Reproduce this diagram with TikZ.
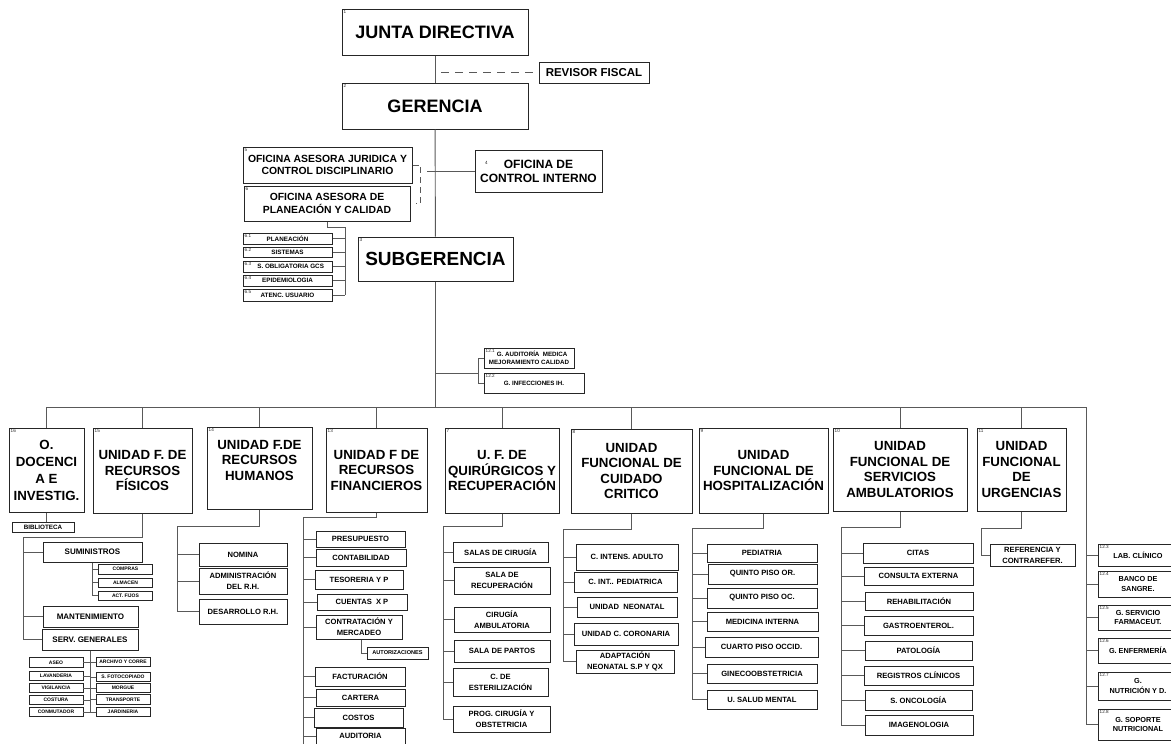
\documentclass[tikz,border=0pt]{standalone}
\usepackage{fontspec}
\setmainfont{Liberation Sans}
\newcommand{\fsz}[2]{\fontsize{#1}{#2}\selectfont}

\begin{document}
\begin{tikzpicture}[x=1pt,y=-1pt]
    \tikzstyle{box}=[rectangle, draw=black!85, line width=1pt, align=center, inner sep=0pt]
    \tikzstyle{top}=[box, font=\fsz{18}{20}\bfseries, minimum width=186pt, minimum height=46pt]
    \tikzstyle{unit}=[box, font=\fsz{13.3}{15.5}\bfseries]
    \tikzstyle{ofi}=[box, font=\fsz{10.4}{12.3}\bfseries]
    \tikzstyle{item}=[box, font=\fsz{7.6}{11}\bfseries]
    \tikzstyle{big item}=[box, font=\fsz{8}{10}\bfseries]
    \tikzstyle{small}=[box, font=\fsz{6.3}{8.5}\bfseries]
    \tikzstyle{tiny}=[box, line width=0.8pt, font=\fsz{5}{6}\bfseries, minimum width=54pt]
    \tikzstyle{side}=[box, font=\fsz{7.3}{9.5}\bfseries, minimum width=80pt]
    \tikzstyle{conn}=[draw=black!65, line width=0.9pt]
    \tikzset{nr/.style={label={[anchor=north west, inner sep=2pt, text=black!85, font=\fsz{4.6}{4.6}]north west:#1}}}

    \useasboundingbox (0,0) rectangle (1171,744);

    % direccion
    \node[top, nr=1] (jd) at (435,32) {JUNTA DIRECTIVA};
    \node[box, font=\fsz{11.5}{13}\bfseries, minimum width=110pt, minimum height=21pt] (rf) at (594,72.5) {REVISOR FISCAL};
    \node[top, nr=2] (ger) at (435,106) {GERENCIA};
    \node[ofi, nr=5, minimum width=169pt, minimum height=36pt] (ojur) at (327.5,165) {OFICINA ASESORA JURIDICA Y\\CONTROL DISCIPLINARIO};
    \node[ofi, nr=6, minimum width=166pt, minimum height=35pt] (opla) at (327,203.5) {OFICINA ASESORA DE\\PLANEACIÓN Y CALIDAD};
    \node[ofi, font=\fsz{12}{14}\bfseries, minimum width=127pt, minimum height=42pt,
          label={[anchor=center, xshift=12pt, yshift=8pt, text=black!85, font=\fsz{4.6}{4.6}]west:4}] (oci) at (538.5,171) {OFICINA DE\\CONTROL INTERNO};
    \node[top, font=\fsz{19}{21}\bfseries, nr=3, minimum width=155pt, minimum height=44pt] (sub) at (435.5,259) {SUBGERENCIA};

    \node[small, nr=6.1, minimum width=89pt, minimum height=11pt] (p61) at (287.5,238.5) {PLANEACIÓN};
    \node[small, nr=6.2, minimum width=89pt, minimum height=10pt] (p62) at (287.5,252) {SISTEMAS};
    \node[small, nr=6.3, minimum width=89pt, minimum height=11pt] (p63) at (287.5,266.5) {\quad S. OBLIGATORIA GCS};
    \node[small, nr=6.4, minimum width=89pt, minimum height=11pt] (p64) at (287.5,280.5) {EPIDEMIOLOGIA};
    \node[small, nr=6.5, minimum width=89pt, minimum height=12pt] (p65) at (287.5,295) {ATENC. USUARIO};

    \node[small, font=\fsz{6.2}{8}\bfseries, nr=12.1, minimum width=90pt, minimum height=20pt] (a121) at (529,358) {\quad G. AUDITORÍA\ \ MEDICA\\MEJORAMIENTO CALIDAD};
    \node[small, font=\fsz{6.2}{8}\bfseries, nr=12.2, minimum width=100pt, minimum height=20pt] (a122) at (534,383) {G. INFECCIONES IH.};

    % unidades
    \node[unit, font=\fsz{13.3}{17}\bfseries, nr=16, minimum width=75pt, minimum height=84pt] (u16) at (46.5,470) {O.\\DOCENCI\\A E\\INVESTIG.};
    \node[unit, nr=15, minimum width=99pt, minimum height=85pt] (u15) at (142.5,470.5) {UNIDAD F. DE\\RECURSOS\\FÍSICOS};
    \node[unit, nr=14, minimum width=105pt, minimum height=82pt] (u14) at (259.5,468) {UNIDAD F.DE\\RECURSOS\\HUMANOS\\\mbox{}};
    \node[unit, nr=13, minimum width=101pt, minimum height=84pt] (u13) at (376.5,470) {UNIDAD F DE\\RECURSOS\\FINANCIEROS};
    \node[unit, nr=7, minimum width=114pt, minimum height=85pt] (u7) at (502,470.5) {U. F. DE\\QUIRÚRGICOS Y\\RECUPERACIÓN};
    \node[unit, nr=8, minimum width=121pt, minimum height=84pt] (u8) at (631.5,471) {UNIDAD\\FUNCIONAL DE\\CUIDADO\\CRITICO};
    \node[unit, nr=9, minimum width=129pt, minimum height=85pt] (u9) at (763.5,470.5) {UNIDAD\\FUNCIONAL DE\\HOSPITALIZACIÓN};
    \node[unit, nr=10, minimum width=134pt, minimum height=83pt] (u10) at (900,469.5) {UNIDAD\\FUNCIONAL DE\\SERVICIOS\\AMBULATORIOS};
    \node[unit, nr=11, minimum width=89pt, minimum height=83pt] (u11) at (1021.5,469.5) {UNIDAD\\FUNCIONAL\\DE\\URGENCIAS};

    % docencia y recursos fisicos
    \node[small, minimum width=62pt, minimum height=10pt] (bib) at (43,527) {BIBLIOTECA};
    \node[big item, minimum width=99pt, minimum height=20pt] (sum) at (92.5,552) {SUMINISTROS};
    \node[tiny, minimum height=10pt] (comp) at (125.5,569) {COMPRAS};
    \node[tiny, minimum height=9pt] (alm) at (125.5,582.5) {ALMACEN};
    \node[tiny, minimum height=9pt] (act) at (125.5,595.5) {ACT. FIJOS};
    \node[big item, minimum width=95pt, minimum height=21pt] (man) at (90.5,616.5) {MANTENIMIENTO};
    \node[big item, minimum width=96pt, minimum height=21pt] (sg) at (90,639.5) {SERV. GENERALES};
    \node[tiny, minimum height=9.5pt] (aseo) at (56,662.5) {ASEO};
    \node[tiny, minimum height=9.5pt] (lav) at (56,676) {LAVANDERIA};
    \node[tiny, minimum height=9.5pt] (vig) at (56,688) {VIGILANCIA};
    \node[tiny, minimum height=9.5pt] (cost) at (56,700) {COSTURA};
    \node[tiny, minimum height=9.5pt] (conm) at (56,712) {CONMUTADOR};
    \node[tiny, minimum height=9.5pt] (arch) at (123,662) {ARCHIVO Y CORRE};
    \node[tiny, minimum height=9.5pt] (foto) at (123,677) {S. FOTOCOPIADO};
    \node[tiny, minimum height=9.5pt] (morg) at (123,688) {MORGUE};
    \node[tiny, minimum height=9.5pt] (trans) at (123,699.5) {TRANSPORTE};
    \node[tiny, minimum height=9.5pt] (jard) at (123,712) {JARDINERIA};

    % recursos humanos
    \node[item, minimum width=88pt, minimum height=23pt] (nom) at (243,554.5) {NOMINA};
    \node[item, minimum width=88pt, minimum height=26pt] (adm) at (243,581) {ADMINISTRACIÓN\\DEL R.H.};
    \node[item, minimum width=88pt, minimum height=25pt] (des) at (243,611.5) {DESARROLLO R.H.};

    % recursos financieros
    \node[item, minimum width=89pt, minimum height=16pt] (pre) at (360.5,539) {PRESUPUESTO};
    \node[item, minimum width=90pt, minimum height=17pt] (cont) at (361,557.5) {CONTABILIDAD};
    \node[item, minimum width=88pt, minimum height=19pt] (tes) at (359,579.5) {TESORERIA Y P};
    \node[item, minimum width=90pt, minimum height=16pt] (cxp) at (362,602) {CUENTAS\ \ X P};
    \node[item, minimum width=86pt, minimum height=24pt] (ctm) at (359,627) {CONTRATACIÓN Y\\MERCADEO};
    \node[box, line width=0.8pt, font=\fsz{5.6}{6}\bfseries, minimum width=61pt, minimum height=12pt] (aut) at (397.5,653) {AUTORIZACIONES};
    \node[item, minimum width=90pt, minimum height=19pt] (fac) at (360,676.5) {FACTURACIÓN};
    \node[item, minimum width=89pt, minimum height=17pt] (cart) at (360.5,697.5) {CARTERA};
    \node[item, minimum width=89pt, minimum height=19pt] (cos) at (358.5,717.5) {COSTOS};
    \node[item, minimum width=89pt, minimum height=16pt] (aud) at (360.5,736) {AUDITORIA};

    % quirurgicos
    \node[item, minimum width=95pt, minimum height=20pt] (sc) at (500.5,552) {SALAS DE CIRUGÍA};
    \node[item, minimum width=96pt, minimum height=27pt] (sr) at (502,580.5) {SALA DE\\RECUPERACIÓN};
    \node[item, minimum width=96pt, minimum height=25pt] (ca) at (502,619.5) {CIRUGÍA\\AMBULATORIA};
    \node[item, minimum width=96pt, minimum height=22pt] (sp) at (502,651) {SALA DE PARTOS};
    \node[item, minimum width=95pt, minimum height=28pt] (ces) at (500.5,682) {C. DE\\ESTERILIZACIÓN};
    \node[item, minimum width=97pt, minimum height=26pt] (pc) at (501.5,719) {PROG. CIRUGÍA Y\\OBSTETRICIA};

    % cuidado critico
    \node[item, minimum width=102pt, minimum height=26pt] (ci) at (627,557) {C. INTENS. ADULTO};
    \node[item, minimum width=103pt, minimum height=20pt] (cp) at (625.5,582) {C. INT.. PEDIATRICA};
    \node[item, minimum width=100pt, minimum height=20pt] (un) at (627,607) {UNIDAD\ \ NEONATAL};
    \node[item, minimum width=104pt, minimum height=22pt] (cc) at (626,634) {UNIDAD C. CORONARIA};
    \node[item, minimum width=98pt, minimum height=23pt] (ad) at (625,661.5) {ADAPTACIÓN\\NEONATAL S.P Y QX};

    % hospitalizacion
    \node[item, minimum width=110pt, minimum height=18pt] (ped) at (762,553) {PEDIATRIA};
    \node[item, minimum width=109pt, minimum height=20pt] (qor) at (762.5,574) {QUINTO PISO OR.};
    \node[item, minimum width=110pt, minimum height=20pt] (qoc) at (762,598) {QUINTO PISO OC.};
    \node[item, minimum width=111pt, minimum height=19pt] (mi) at (762.5,621.5) {MEDICINA INTERNA};
    \node[item, minimum width=113pt, minimum height=20pt] (cpo) at (761.5,647) {CUARTO PISO OCCID.};
    \node[item, minimum width=110pt, minimum height=19pt] (gin) at (762,673.5) {GINECOOBSTETRICIA};
    \node[item, minimum width=110pt, minimum height=19pt] (usm) at (762,699.5) {U. SALUD MENTAL};

    % ambulatorios
    \node[item, minimum width=110pt, minimum height=20pt] (cit) at (918,553) {CITAS};
    \node[item, minimum width=109pt, minimum height=18pt] (cex) at (918.5,576) {CONSULTA EXTERNA};
    \node[item, minimum width=108pt, minimum height=18pt] (reh) at (919,601) {REHABILITACIÓN};
    \node[item, minimum width=109pt, minimum height=19pt] (gas) at (918.5,625.5) {GASTROENTEROL.};
    \node[item, minimum width=107pt, minimum height=19pt] (pat) at (918.5,650.5) {PATOLOGÍA};
    \node[item, minimum width=109pt, minimum height=19pt] (reg) at (918.5,675.5) {REGISTROS CLÍNICOS};
    \node[item, minimum width=107pt, minimum height=20pt] (onc) at (918.5,700) {S. ONCOLOGÍA};
    \node[item, minimum width=108pt, minimum height=20pt] (ima) at (919,725) {IMAGENOLOGIA};

    % urgencias
    \node[item, minimum width=85pt, minimum height=22pt] (ref) at (1032.5,555) {REFERENCIA Y\\CONTRAREFER.};

    % grupos de apoyo
    \node[side, nr=12.3, minimum height=22pt] (l123) at (1138,555) {LAB. CLÍNICO};
    \node[side, nr=12.4, minimum height=26pt] (l124) at (1138,584) {BANCO DE\\SANGRE.};
    \node[side, nr=12.5, minimum height=25pt] (l125) at (1138,617.5) {G. SERVICIO\\FARMACEUT.};
    \node[side, nr=12.6, minimum height=25pt] (l126) at (1138,650.5) {G. ENFERMERÍA};
    \node[side, nr=12.7, minimum height=28pt] (l127) at (1138,686) {G.\\NUTRICIÓN Y D.};
    \node[side, nr=12.8, minimum height=31pt] (l128) at (1138,724.5) {G. SOPORTE\\NUTRICIONAL};

    % conectores
    \coordinate (rfj) at (441,72.5);
    \coordinate (ocx) at (427,171);
    \coordinate (p6) at (345,227);
    \coordinate (aj) at (478,373);
    \coordinate (bus) at (0,407);
    \coordinate (busR) at (1086,407);

    \draw[conn] (jd) -- (ger);
    \draw[conn, dash pattern=on 8pt off 6pt] (rfj) -- (rf.west);
    \draw[conn] (ger) -- (sub);
    \draw[conn, dash pattern=on 6pt off 4pt] (ojur.east) -- ++(8,0) -- ++(0,38) -- ++(-5,0);
    \draw[conn] (ocx) -- (oci.west);
    \draw[conn] (opla.south) |- (p6) -- (p6 |- p65.east);
    \foreach \n in {p61,p62,p63,p64,p65}
        \draw[conn] (\n.east) -- (\n.east -| p6);
    \draw[conn] (sub.south) -- (sub.south |- bus);
    \draw[conn] (aj -| sub.south) -- (aj);
    \draw[conn] (a121.west) -| (aj);
    \draw[conn] (a122.west) -| (aj);

    \draw[conn] (u16.north |- bus) -- (busR);
    \foreach \u in {u16,u15,u14,u13,u7,u8,u10,u11}
        \draw[conn] (\u.north) -- (\u.north |- bus);
    \draw[conn] (busR) |- (l128.west);
    \foreach \n in {l123,l124,l125,l126,l127}
        \draw[conn] (\n.west) -- (\n.west -| busR);

    \draw[conn] (u16.south) -- (u16.south |- bib.north);

    \coordinate (j15) at (23,537);
    \draw[conn] (u15.south) |- (j15) -- (j15 |- sg.west);
    \foreach \n in {sum,man,sg}
        \draw[conn] (\n.west) -- (\n.west -| j15);
    \draw[conn] (sum.south) |- (act.west);
    \foreach \n in {comp,alm}
        \draw[conn] (\n.west) -- (\n.west -| sum.south);
    \draw[conn] (sg.south) -- (sg.south |- conm.east);
    \foreach \n in {aseo,lav,vig,cost,conm}
        \draw[conn] (\n.east) -- (\n.east -| sg.south);
    \foreach \n in {arch,foto,morg,trans,jard}
        \draw[conn] (\n.west) -- (\n.west -| sg.south);

    \coordinate (j14) at (177,526);
    \draw[conn] (u14.south) |- (j14) |- (des.west);
    \foreach \n in {nom,adm}
        \draw[conn] (\n.west) -- (\n.west -| j14);

    \coordinate (j13) at (303,517);
    \coordinate (e13) at (303,744);
    \draw[conn] (u13.south) |- (j13) -- (e13);
    \foreach \n in {pre,cont,tes,cxp,ctm,fac,cart,cos,aud}
        \draw[conn] (\n.west) -- (\n.west -| j13);
    \draw[conn] ([xshift=2pt]ctm.south) |- (aut.west);

    \coordinate (j7) at (443,526);
    \draw[conn] (u7.south) |- (j7) |- (pc.west);
    \foreach \n in {sc,sr,ca,sp,ces}
        \draw[conn] (\n.west) -- (\n.west -| j7);

    \coordinate (j8) at (563,529);
    \draw[conn] (u8.south) |- (j8) |- (ad.west);
    \foreach \n in {ci,cp,un,cc}
        \draw[conn] (\n.west) -- (\n.west -| j8);

    \coordinate (j9) at (692,528);
    \draw[conn] (u9.south) |- (j9) |- (usm.west);
    \foreach \n in {ped,qor,qoc,mi,cpo,gin}
        \draw[conn] (\n.west) -- (\n.west -| j9);

    \coordinate (j10) at (841,527);
    \draw[conn] (u10.south) |- (j10) |- (ima.west);
    \foreach \n in {cit,cex,reh,gas,pat,reg,onc}
        \draw[conn] (\n.west) -- (\n.west -| j10);

    \coordinate (j11) at (981,528);
    \draw[conn] (u11.south) |- (j11) |- (ref.west);
\end{tikzpicture}
\end{document}
